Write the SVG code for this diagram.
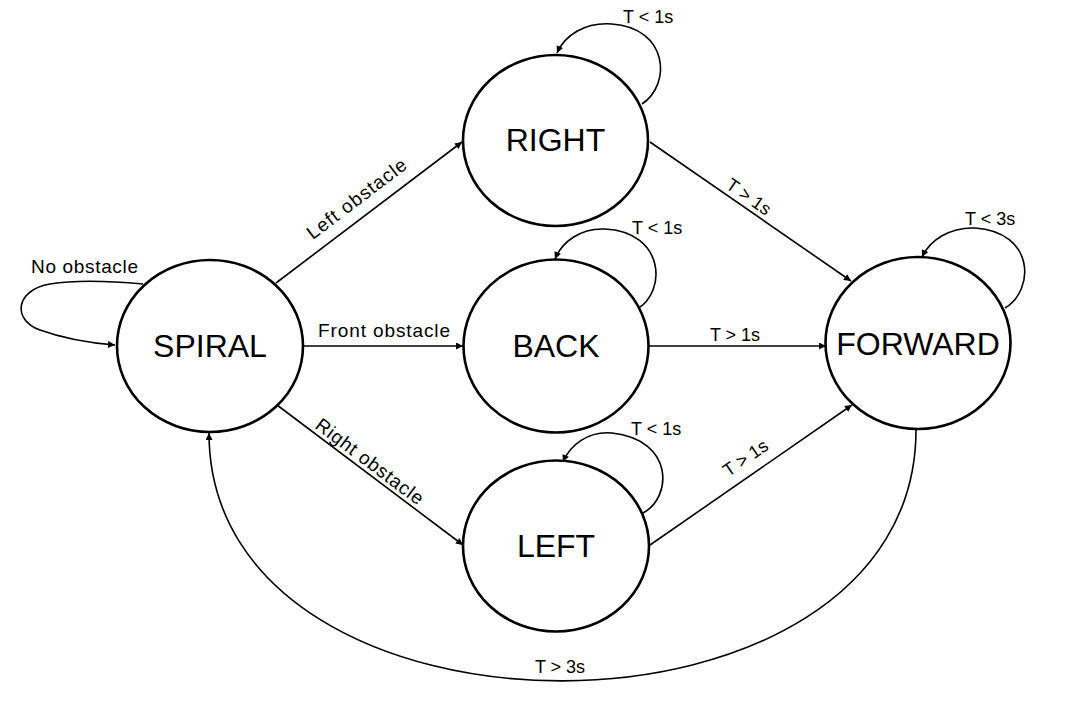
<svg xmlns="http://www.w3.org/2000/svg" width="1090" height="718" viewBox="0 0 1090 718">
<style>
.node{fill:#fff;stroke:#000;stroke-width:2.6}
.nl{font-family:"Liberation Sans",Arial,sans-serif;font-size:32px;fill:#000;text-anchor:middle}
.e{fill:none;stroke:#000;stroke-width:1.6;marker-end:url(#ah)}
.el{font-family:"Liberation Sans",Arial,sans-serif;font-size:18px;fill:#000;text-anchor:middle}
.ol{font-family:"Liberation Sans",Arial,sans-serif;font-size:19px;fill:#000;text-anchor:middle}
.et{font-family:"Liberation Sans",Arial,sans-serif;font-size:18px;fill:#000}
</style>
<defs>
<marker id="ah" viewBox="0 0 10 10" refX="10" refY="5" markerWidth="9" markerHeight="7" markerUnits="userSpaceOnUse" orient="auto">
<path d="M0,0 L10,5 L0,10 z" fill="#000"/>
</marker>
</defs>
<rect width="1090" height="718" fill="#fff"/>
<g id="connectors">
<path class="e" d="M143 284 C110 281,75 280,50 284 C15 290,12 320,40 330 C62 338,90 343,115 345"/>
<path class="e" d="M276 283 L462 142"/>
<path class="e" d="M303 346 L463 346"/>
<path class="e" d="M277 405 L463 545"/>
<path class="e" d="M650 142 L851 281"/>
<path class="e" d="M649 346 L826 346"/>
<path class="e" d="M650 545 L852 405"/>
<path class="e" d="M642 104 C672 84,668 28,612 24 C585 22,565 35,557 53"/>
<path class="e" d="M637 309 C667 292,665 232,605 229 C580 228,562 242,555 259"/>
<path class="e" d="M643 513 C672 498,675 440,612 433 C588 431,570 445,563 462"/>
<path class="e" d="M1005 308 C1035 290,1035 232,975 228 C950 227,930 240,922 257"/>
<path class="e" d="M916 430 C916 764,209 764,209 433"/>
<text class="ol" x="84.5" y="273" textLength="107">No obstacle</text>
<text class="ol" transform="translate(360.5 203.9) rotate(-37.2)" textLength="120">Left obstacle</text>
<text class="ol" x="384" y="337" textLength="132">Front obstacle</text>
<text class="ol" transform="translate(365.8 466.6) rotate(37)" textLength="130">Right obstacle</text>
<text class="el" transform="translate(745.3 201.9) rotate(34.7)">T &gt; 1s</text>
<text class="el" x="735" y="341">T &gt; 1s</text>
<text class="el" transform="translate(748.9 463) rotate(-34.7)">T &gt; 1s</text>
<text class="et" x="623" y="23">T &lt; 1s</text>
<text class="et" x="632" y="234">T &lt; 1s</text>
<text class="et" x="631" y="435">T &lt; 1s</text>
<text class="et" x="965" y="225">T &lt; 3s</text>
<text class="el" x="560" y="673">T &gt; 3s</text>
</g>
<g id="spiral"><ellipse class="node" cx="210" cy="346" rx="93" ry="86"/><text class="nl" x="210" y="357">SPIRAL</text></g>
<g id="right"><ellipse class="node" cx="555.5" cy="140.5" rx="92.5" ry="85.5"/><text class="nl" x="555.5" y="151">RIGHT</text></g>
<g id="back"><ellipse class="node" cx="556" cy="346" rx="92.5" ry="86.5"/><text class="nl" x="556" y="357">BACK</text></g>
<g id="left"><ellipse class="node" cx="556" cy="546" rx="93" ry="85.5"/><text class="nl" x="556" y="557">LEFT</text></g>
<g id="forward"><ellipse class="node" cx="918" cy="343" rx="92.5" ry="86"/><text class="nl" x="918" y="355">FORWARD</text></g>
</svg>
